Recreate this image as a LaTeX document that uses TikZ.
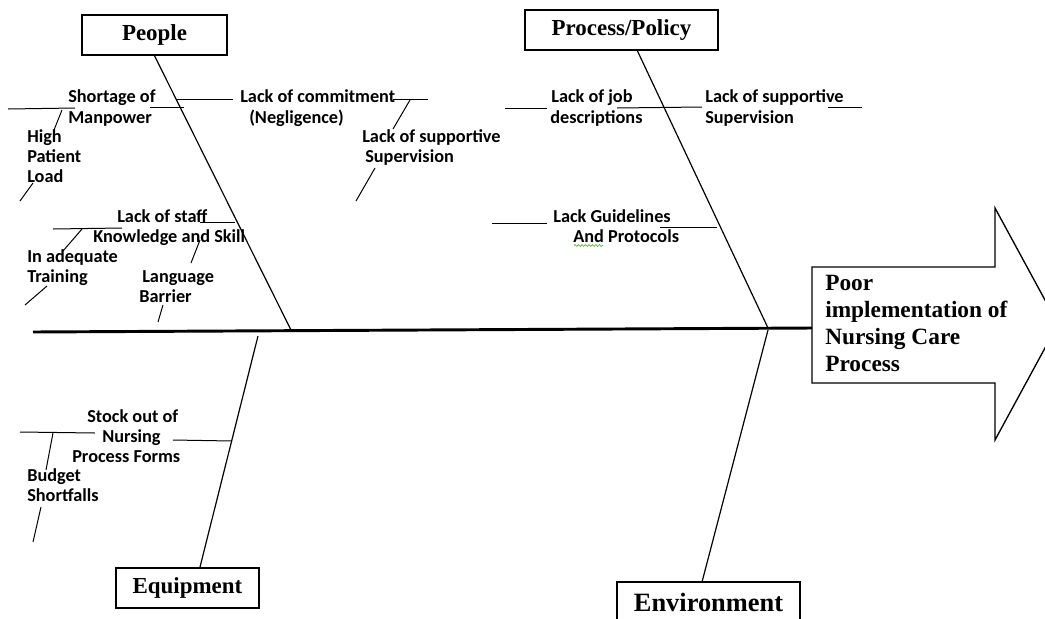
\documentclass[tikz,border=0pt]{standalone}
\usepackage{fontspec}
\setmainfont{Liberation Serif}
\newfontfamily\labfont{Carlito}
\usetikzlibrary{decorations.pathmorphing}
\definecolor{squig}{RGB}{90,180,60}
\begin{document}
\begin{tikzpicture}[x=0.75pt,y=-0.75pt,
  lab/.style={font=\labfont\bfseries\fontsize{13.7}{15}\selectfont, inner sep=0pt, anchor=base west},
  ttl/.style={draw, line width=1.1pt, font=\bfseries\fontsize{17.2}{20}\selectfont, inner sep=0pt, minimum height=30pt},
  mtxt/.style={font=\bfseries\fontsize{17.5}{20}\selectfont, inner sep=0pt, anchor=base west},
  bone/.style={line width=0.9pt},
  twig/.style={line width=0.75pt},
]
\useasboundingbox (0,0) rectangle (1045,618);

% category boxes
\node[ttl, minimum width=108.75pt] (people) at (154.5,35) {People};
\node[ttl, minimum width=144.75pt] (process) at (621.5,30) {Process/Policy};
\node[ttl, minimum width=107.25pt] (equip) at (187.5,588) {Equipment};
\node[ttl, minimum width=137.25pt, font=\bfseries\fontsize{19.8}{22}\selectfont] (env) at (708.5,602) {Environment};

% effect arrow
\draw[line width=1pt] (812,267) -- (995,267) -- (995,208) -- (1058,324) -- (995,440) -- (995,383) -- (812,383) -- cycle;
\coordinate (head) at (812,328);
\coordinate (tail) at (33,332);
\node[mtxt] (m1) at (825,290) {Poor};
\node[mtxt] (m2) at (825,317) {implementation of};
\node[mtxt] (m3) at (825,344) {Nursing Care};
\node[mtxt] (m4) at (825,371) {Process};

% spine
\draw[line width=2.2pt] (tail) -- (head);

% main bones
\coordinate (pj) at (291,330);
\coordinate (pt) at (637,50);
\coordinate (qj) at (768,328);
\coordinate (et) at (258,336);
\coordinate (eb) at (200,567);
\coordinate (vt) at (768,330);
\coordinate (vb) at (702,582);
\draw[bone] (people.south) -- (pj);
\draw[bone] (pt) -- (qj);
\draw[bone] (et) -- (eb);
\draw[bone] (vt) -- (vb);

% labels: People
\node[lab] (a1) at (68,102) {Shortage of};
\node[lab] (a2) at (68,123) {Manpower};
\node[lab] (b1) at (27,142) {High};
\node[lab] (b2) at (27,162) {Patient};
\node[lab] (b3) at (27,182) {Load};
\node[lab] (c1) at (240,102) {Lack of commitment};
\node[lab] (c2) at (249,123) {(Negligence)};
\node[lab] (d1) at (362,142) {Lack of supportive};
\node[lab] (d2) at (365,162) {Supervision};
\node[lab] (e1) at (117,222) {Lack of staff};
\node[lab] (e2) at (93,242) {Knowledge and Skill};
\node[lab] (f1) at (27,262) {In adequate};
\node[lab] (f2) at (27,282) {Training};
\node[lab] (g1) at (142,282) {Language};
\node[lab] (g2) at (139,302) {Barrier};
% labels: Process/Policy
\node[lab] (h1) at (551,102) {Lack of job};
\node[lab] (h2) at (550,123) {descriptions};
\node[lab] (i1) at (705,102) {Lack of supportive};
\node[lab] (i2) at (705,123) {Supervision};
\node[lab] (j1) at (553,222) {Lack Guidelines};
\node[lab] (j2) at (573,242) {And Protocols};
% labels: Equipment
\node[lab] (k1) at (87,422) {Stock out of};
\node[lab] (k2) at (102,442) {Nursing};
\node[lab] (k3) at (72,462) {Process Forms};
\node[lab] (l1) at (27,481) {Budget};
\node[lab] (l2) at (27,501) {Shortfalls};

\draw[squig, line width=0.5pt, decorate, decoration={snake, amplitude=0.7pt, segment length=2.6pt}] (574,245.5) -- (603,245.5);

% twigs: People
\draw[twig] (150,107) -- (184,107);
\draw[twig] (8,109) -- (75,108);
\draw[twig] (62,110) -- (54,130);
\draw[twig] (33,183) -- (20,201);
\draw[twig] (177,99) -- (233,99);
\draw[twig] (393,99) -- (428,99);
\draw[twig] (410,100) -- (393,129);
\draw[twig] (375,168) -- (356,201);
\draw[twig] (200,222) -- (235,222);
\draw[twig] (53,229) -- (122,228);
\draw[twig] (82,229) -- (63,251);
\draw[twig] (47,286) -- (25,305);
\draw[twig] (200,240) -- (191,263);
\draw[twig] (163,305) -- (158,322);
% twigs: Process/Policy
\draw[twig] (505,108) -- (547,108);
\draw[twig] (617,108) -- (702,107);
\draw[twig] (828,107) -- (862,107);
\draw[twig] (492,223) -- (547,223);
\draw[twig] (660,227) -- (717,227);
% twigs: Equipment
\draw[twig] (20,432) -- (95,433);
\draw[twig] (173,440) -- (232,441);
\draw[twig] (53,433) -- (46,470);
\draw[twig] (41,507) -- (33,542);
\end{tikzpicture}
\end{document}
